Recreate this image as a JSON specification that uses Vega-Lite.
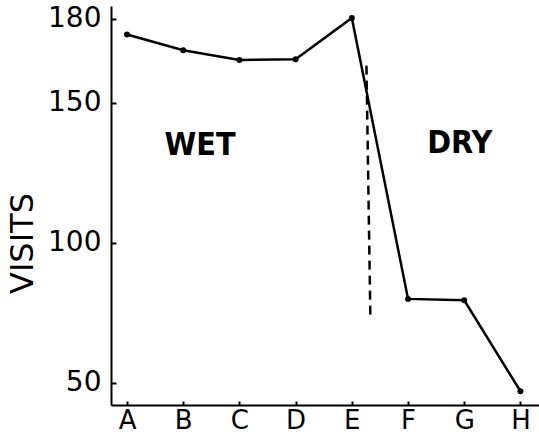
{
  "$schema": "https://vega.github.io/schema/vega-lite/v6.json",
  "width": 428,
  "height": 399,
  "autosize": {"type": "none"},
  "padding": {"left": 111, "top": 6, "right": 0, "bottom": 40},
  "background": "white",
  "config": {"view": {"stroke": null}, "font": "DejaVu Sans"},
  "datasets": {
    "visits": [
      {"idx": 0, "site": "A", "visits": 174.3},
      {"idx": 1, "site": "B", "visits": 168.7},
      {"idx": 2, "site": "C", "visits": 165.2},
      {"idx": 3, "site": "D", "visits": 165.5},
      {"idx": 4, "site": "E", "visits": 180.2},
      {"idx": 5, "site": "F", "visits": 79.9},
      {"idx": 6, "site": "G", "visits": 79.4},
      {"idx": 7, "site": "H", "visits": 46.9}
    ],
    "divider": [
      {"x": 4.26, "y": 163.2, "x2": 4.33, "y2": 73.2}
    ],
    "labels": [
      {"x": 1.3, "y": 135, "label": "WET"},
      {"x": 5.92, "y": 135.7, "label": "DRY"}
    ]
  },
  "layer": [
    {
      "data": {"name": "visits"},
      "mark": {"type": "line", "color": "black", "strokeWidth": 2.5, "point": {"filled": true, "color": "black", "size": 35}},
      "encoding": {
        "x": {
          "field": "idx", "type": "quantitative",
          "scale": {"domain": [-0.285, 7.33], "nice": false, "zero": false},
          "axis": {
            "values": [0, 1, 2, 3, 4, 5, 6, 7],
            "labelExpr": "['A','B','C','D','E','F','G','H'][datum.value]",
            "title": null, "grid": false,
            "domainColor": "black", "domainWidth": 2,
            "tickColor": "black", "tickWidth": 2, "tickSize": -4,
            "labelColor": "black", "labelFontSize": 26, "labelFont": "DejaVu Sans",
            "labelPadding": 6, "labelFlush": false
          }
        },
        "y": {
          "field": "visits", "type": "quantitative",
          "scale": {"domain": [42, 184.5], "nice": false, "zero": false},
          "axis": {
            "values": [50, 100, 150, 180],
            "title": "VISITS", "titleFont": "DejaVu Sans", "titleFontSize": 32, "titleFontWeight": "normal",
            "titleColor": "black", "titleX": -72, "titleY": 237, "titleAngle": -90, "titleBaseline": "bottom", "titleAlign": "center",
            "grid": false,
            "domainColor": "black", "domainWidth": 2,
            "tickColor": "black", "tickWidth": 2, "tickSize": -5,
            "labelColor": "black", "labelFontSize": 28, "labelFont": "DejaVu Sans",
            "labelPadding": 15, "labelFlush": false
          }
        }
      }
    },
    {
      "data": {"name": "divider"},
      "mark": {"type": "rule", "color": "black", "strokeWidth": 2.5, "strokeDash": [9, 6]},
      "encoding": {
        "x": {"field": "x", "type": "quantitative"},
        "x2": {"field": "x2"},
        "y": {"field": "y", "type": "quantitative"},
        "y2": {"field": "y2"}
      }
    },
    {
      "data": {"name": "labels"},
      "mark": {"type": "text", "font": "DejaVu Sans Condensed", "fontWeight": "bold", "fontSize": 32, "color": "black", "baseline": "middle", "align": "center"},
      "encoding": {
        "x": {"field": "x", "type": "quantitative"},
        "y": {"field": "y", "type": "quantitative"},
        "text": {"field": "label"}
      }
    }
  ]
}
